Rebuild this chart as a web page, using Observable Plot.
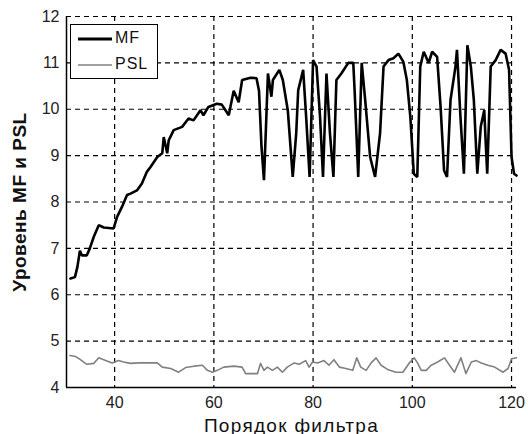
<!DOCTYPE html>
<html>
<head>
<meta charset="utf-8">
<script src="https://cdn.jsdelivr.net/npm/d3@7"></script>
<script src="https://cdn.jsdelivr.net/npm/@observablehq/plot@0.6"></script>
<style>
  html, body { margin: 0; padding: 0; background: #fff; }
  #wrap { position: relative; width: 528px; height: 434px; font-family: "Liberation Sans", Arial, sans-serif; }
  #wrap svg { font-family: "Liberation Sans", Arial, sans-serif; }
  g[aria-label="y-axis label"] text { font-weight: bold; font-size: 19px; fill: #111; letter-spacing: 0.5px; }
  g[aria-label="x-axis label"] text { font-size: 19px; fill: #111; letter-spacing: 1.3px; }
  #legend { position: absolute; left: 70px; top: 24px; width: 88px; height: 55px; box-sizing: border-box;
            border: 1.5px solid #000; background: #fff; }
  #legend .row { position: absolute; left: 0; font-size: 16px; color: #111; }
</style>
</head>
<body>
<div id="wrap"></div>
<script>
// MF values (x = filter order, y = level)
const mfX = [31.1,32,32.5,33,33.4,34.4,35,35.8,36.8,37.8,39.8,40.5,41.5,42.5,43.2,44.5,45.5,46.5,47.2,48.6,49.6,49.9,50.6,50.9,51.9,53.6,54.9,55.9,57.3,57.9,58.9,60.6,61.6,63,64,65,65.7,67.4,68.6,69.1,69.6,70.1,70.5,70.9,71.6,71.9,73.2,73.9,74.9,75.9,76.6,77,78,78.6,79.3,80,80.7,81.4,82,82.7,83.4,84.1,84.7,85.7,87.1,88.1,88.4,89.1,89.8,90.5,91.5,92.5,93.5,94.2,95.2,96.2,97.2,98.2,98.9,99.6,100.3,101,101.6,102.3,103.3,104,105,105.7,106.4,107,107.7,108.7,109,109.7,110.4,111.1,111.8,112.4,113.1,113.8,114.5,114.8,115.1,115.8,116.8,117.8,118.8,119.5,120,120.5,121];
const mfY = [6.35,6.38,6.6,6.95,6.85,6.85,7.0,7.25,7.5,7.45,7.43,7.68,7.9,8.15,8.18,8.25,8.4,8.65,8.75,8.97,9.05,9.4,9.05,9.33,9.55,9.62,9.8,9.76,9.98,9.87,10.05,10.12,10.1,9.87,10.4,10.15,10.63,10.68,10.67,10.4,9.2,8.47,9.6,10.77,10.27,10.63,10.85,10.63,9.98,8.54,9.48,10.41,10.85,9.84,8.54,11.06,10.92,9.84,8.54,10.77,9.48,8.54,10.63,10.77,11.0,11.0,10.34,8.54,11.0,10.2,8.97,8.54,9.48,10.92,11.06,11.1,11.2,11.02,10.63,9.84,8.61,8.54,10.92,11.24,11.0,11.24,11.13,10.05,8.68,8.54,10.2,10.92,11.28,9.84,8.61,11.38,10.92,10.2,8.61,9.63,9.98,9.27,8.61,10.92,11.06,11.28,11.2,10.85,8.97,8.61,8.57];

// PSL values
const pslX = [31,32.1,33.1,34.4,35.8,36.8,37.8,39.5,40.8,41.8,43.2,44.9,46.5,48.6,49.6,51.3,52.9,54.3,56,57.7,58.7,59.7,60.7,62,64,65.7,66.4,68.8,69.4,70.1,70.8,71.8,72.8,73.8,74.8,76.2,77.2,78.5,79.2,79.9,80.9,82.2,83.2,84.2,85.3,86.6,88,88.8,89.6,90.7,91.7,92.7,93.7,95,96.7,98.1,99.4,100.4,101.1,101.8,102.8,103.8,105.1,106.5,107.5,108.5,109.8,110.8,111.9,112.9,113.9,115.2,116.6,118.3,119.3,120,121];
const pslY = [4.69,4.67,4.6,4.5,4.52,4.64,4.6,4.53,4.58,4.55,4.52,4.53,4.53,4.53,4.44,4.41,4.33,4.43,4.46,4.48,4.37,4.33,4.37,4.44,4.46,4.44,4.3,4.3,4.52,4.37,4.44,4.37,4.44,4.33,4.44,4.53,4.5,4.58,4.44,4.55,4.53,4.58,4.48,4.6,4.44,4.41,4.37,4.64,4.44,4.37,4.53,4.64,4.48,4.39,4.33,4.33,4.53,4.64,4.52,4.37,4.37,4.48,4.55,4.64,4.48,4.33,4.64,4.3,4.55,4.58,4.53,4.48,4.44,4.33,4.41,4.62,4.64];

const xTicks = [40, 60, 80, 100, 120];
const yTicks = [4, 5, 6, 7, 8, 9, 10, 11, 12];
const seriesNames = ["MF", "PSL"];
const xLabel = "Порядок фильтра";
const yLabel = "Уровень MF и PSL";

const mf = mfX.map((x, i) => ({x, y: mfY[i]}));
const psl = pslX.map((x, i) => ({x, y: pslY[i]}));
const xDomain = [30.3, 121];

const chart = Plot.plot({
  width: 528,
  height: 434,
  marginLeft: 66,
  marginRight: 12,
  marginTop: 16,
  marginBottom: 47,
  style: {fontSize: "16px", color: "#222", background: "#fff"},
  x: {domain: xDomain},
  y: {domain: [4, 12]},
  marks: [
    Plot.gridX(xTicks, {stroke: "#000", strokeOpacity: 1, strokeWidth: 1.2, strokeDasharray: "5,4"}),
    Plot.gridY(yTicks.slice(1), {stroke: "#000", strokeOpacity: 1, strokeWidth: 1.2, strokeDasharray: "5,4"}),
    Plot.line(psl, {x: "x", y: "y", stroke: "#808080", strokeWidth: 1.6}),
    Plot.line(mf, {x: "x", y: "y", stroke: "#000", strokeWidth: 2.6, strokeLinejoin: "miter"}),
    Plot.ruleY([4], {stroke: "#000", strokeWidth: 1.5}),
    Plot.ruleX([xDomain[0]], {stroke: "#000", strokeWidth: 1.5}),
    Plot.axisX(xTicks, {tickSize: 0, tickPadding: 9, label: xLabel, labelAnchor: "center", labelOffset: 44, labelArrow: "none"}),
    Plot.axisY(yTicks, {tickSize: 0, tickPadding: 7, label: yLabel, labelAnchor: "center", labelOffset: 54, labelArrow: "none"})
  ]
});

const wrap = document.getElementById("wrap");
wrap.appendChild(chart);

// legend
const legend = document.createElement("div");
legend.id = "legend";
const rows = [
  {name: seriesNames[0], stroke: "#000", width: 3, top: 2},
  {name: seriesNames[1], stroke: "#808080", width: 1.3, top: 28}
];
rows.forEach(r => {
  const row = document.createElement("div");
  row.className = "row";
  row.style.top = r.top + "px";
  row.innerHTML = `<svg width="44" height="22" style="vertical-align:middle"><line x1="7" x2="41" y1="12" y2="12" stroke="${r.stroke}" stroke-width="${r.width}"/></svg><span style="vertical-align:middle;letter-spacing:1px">${r.name}</span>`;
  legend.appendChild(row);
});
wrap.appendChild(legend);
</script>
</body>
</html>
